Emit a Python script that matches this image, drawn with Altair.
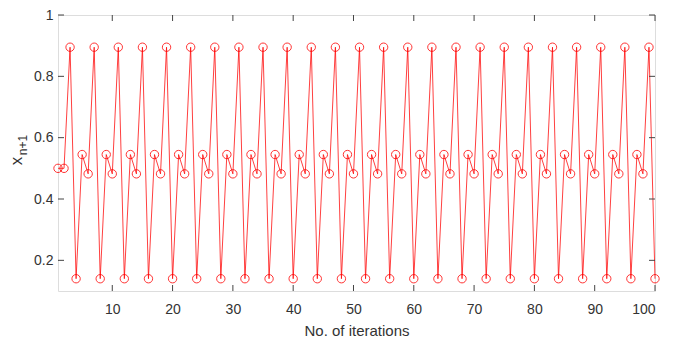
import altair as alt
import pandas as pd

iterations = list(range(1, 101))
values = [0.5, 0.5,
          0.895, 0.14, 0.545, 0.482, 0.895, 0.14, 0.545, 0.482,
          0.895, 0.14, 0.545, 0.482, 0.895, 0.14, 0.545, 0.482,
          0.895, 0.14, 0.545, 0.482, 0.895, 0.14, 0.545, 0.482,
          0.895, 0.14, 0.545, 0.482, 0.895, 0.14, 0.545, 0.482,
          0.895, 0.14, 0.545, 0.482, 0.895, 0.14, 0.545, 0.482,
          0.895, 0.14, 0.545, 0.482, 0.895, 0.14, 0.545, 0.482,
          0.895, 0.14, 0.545, 0.482, 0.895, 0.14, 0.545, 0.482,
          0.895, 0.14, 0.545, 0.482, 0.895, 0.14, 0.545, 0.482,
          0.895, 0.14, 0.545, 0.482, 0.895, 0.14, 0.545, 0.482,
          0.895, 0.14, 0.545, 0.482, 0.895, 0.14, 0.545, 0.482,
          0.895, 0.14, 0.545, 0.482, 0.895, 0.14, 0.545, 0.482,
          0.895, 0.14, 0.545, 0.482, 0.895, 0.14, 0.545, 0.482,
          0.895, 0.14]
x_ticks = [10, 20, 30, 40, 50, 60, 70, 80, 90, 100]
y_ticks = [0.2, 0.4, 0.6, 0.8, 1.0]
y_title_main = "x"
y_title_sub = "n+1"
x_title = "No. of iterations"

W, H = 597, 276
TL = 6
FONT = "Liberation Sans"
TICK_COLOR = "#444444"
TEXT_COLOR = "#333333"

df = pd.DataFrame({"n": iterations, "x": values})
xt = pd.DataFrame({"t": x_ticks})
yt = pd.DataFrame({"t": y_ticks})

xscale = alt.Scale(domain=[1, 100], nice=False, zero=False)
yscale = alt.Scale(domain=[0.1, 1.0], nice=False, zero=False)

xaxis = alt.Axis(values=x_ticks, tickSize=0, grid=False, domain=False,
                 labelPadding=11, labelFontSize=14, labelColor=TEXT_COLOR,
                 labelFont=FONT, title=x_title, titleFont=FONT,
                 titleFontSize=15, titleFontWeight="normal", titleColor=TEXT_COLOR,
                 titlePadding=7)
yaxis = alt.Axis(values=y_ticks, tickSize=0, grid=False, domain=False,
                 labelPadding=5, labelFontSize=14, labelColor=TEXT_COLOR,
                 labelFont=FONT, format="~g", title=None)

line = alt.Chart(df).mark_line(color="#ff0000", strokeWidth=1, opacity=0.75).encode(
    x=alt.X("n:Q", scale=xscale, axis=xaxis),
    y=alt.Y("x:Q", scale=yscale, axis=yaxis),
)
points = alt.Chart(df).mark_point(shape="circle", filled=False, color="#ff0000",
                                  size=70, strokeWidth=1, opacity=0.8).encode(
    x=alt.X("n:Q", scale=xscale),
    y=alt.Y("x:Q", scale=yscale),
)

xt_bottom = alt.Chart(xt).mark_rule(color=TICK_COLOR, strokeWidth=1).encode(
    x=alt.X("t:Q", scale=xscale), y=alt.value(H), y2=alt.value(H - TL))
xt_top = alt.Chart(xt).mark_rule(color=TICK_COLOR, strokeWidth=1).encode(
    x=alt.X("t:Q", scale=xscale), y=alt.value(0), y2=alt.value(TL))
yt_left = alt.Chart(yt).mark_rule(color=TICK_COLOR, strokeWidth=1).encode(
    y=alt.Y("t:Q", scale=yscale), x=alt.value(0), x2=alt.value(TL))
yt_right = alt.Chart(yt).mark_rule(color=TICK_COLOR, strokeWidth=1).encode(
    y=alt.Y("t:Q", scale=yscale), x=alt.value(W), x2=alt.value(W - TL))

title_main = alt.Chart(pd.DataFrame({"s": [y_title_main]})).mark_text(
    angle=270, font=FONT, fontSize=17, color=TEXT_COLOR, align="center", baseline="middle"
).encode(text="s:N", x=alt.value(-41), y=alt.value(146))
title_sub = alt.Chart(pd.DataFrame({"s": [y_title_sub]})).mark_text(
    angle=270, font=FONT, fontSize=12, color=TEXT_COLOR, align="center", baseline="middle"
).encode(text="s:N", x=alt.value(-35), y=alt.value(130))

chart = alt.layer(line, points, xt_bottom, xt_top, yt_left, yt_right,
                  title_main, title_sub).properties(
    width=W, height=H,
    autosize=alt.AutoSizeParams(type="none"),
    padding={"left": 50, "top": 7, "right": 10, "bottom": 49},
).configure_view(stroke="#666666", strokeWidth=1).configure(background="white")

chart.save("out.html", embed_options={"renderer": "svg", "actions": False})
